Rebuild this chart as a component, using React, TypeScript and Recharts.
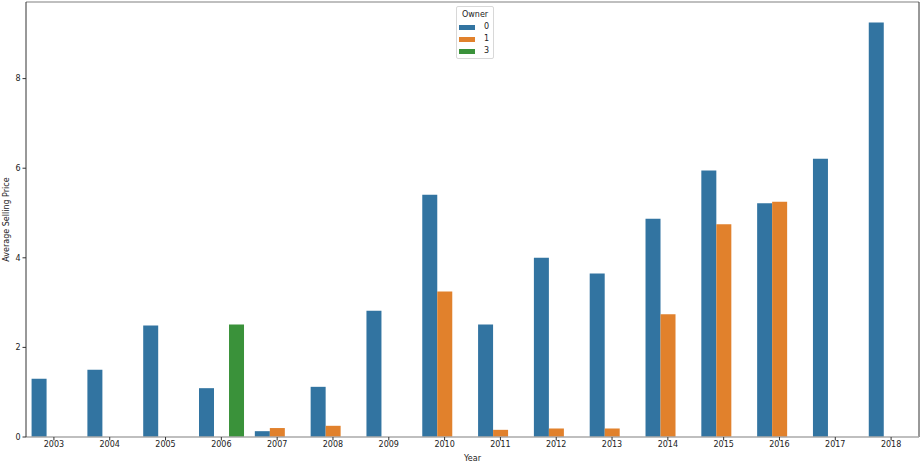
import { Bar, BarChart, ReferenceLine, XAxis, YAxis } from "recharts";

const years = [
  "2003", "2004", "2005", "2006", "2007", "2008", "2009", "2010",
  "2011", "2012", "2013", "2014", "2015", "2016", "2017", "2018",
];
const owner0 = [1.3, 1.5, 2.49, 1.09, 0.13, 1.12, 2.82, 5.41, 2.51, 4.0, 3.65, 4.87, 5.95, 5.22, 6.21, 9.25];
const owner1 = [null, null, null, null, 0.2, 0.25, null, 3.25, 0.16, 0.19, 0.19, 2.74, 4.75, 5.25, null, null];
const owner3 = [null, null, null, 2.51, null, null, null, null, null, null, null, null, null, null, null, null];
const yTicks = [0, 2, 4, 6, 8];
const yMax = 9.71;

const series = [
  { key: "o0", name: "0", color: "#3274a1" },
  { key: "o1", name: "1", color: "#e1812c" },
  { key: "o3", name: "3", color: "#3a923a" },
];

const data = years.map((year, i) => ({
  year,
  o0: owner0[i],
  o1: owner1[i],
  o3: owner3[i],
}));

const font = "'DejaVu Sans', sans-serif";
const tick = { fontSize: 8, fill: "#222", fontFamily: font };

function OwnerLegend() {
  return (
    <div
      style={{
        position: "absolute",
        left: 456,
        top: 6,
        border: "1px solid #d8d8d8",
        borderRadius: 2,
        background: "rgba(255,255,255,0.8)",
        padding: "2px 4px 1px 2px",
        fontFamily: font,
        fontSize: 8,
        color: "#222",
        lineHeight: "12px",
      }}
    >
      <div style={{ textAlign: "center", paddingLeft: 2 }}>Owner</div>
      {series.map((s) => (
        <div key={s.key} style={{ display: "flex", alignItems: "center" }}>
          <span style={{ display: "inline-block", width: 16, height: 5, background: s.color, marginRight: 9 }} />
          <span>{s.name}</span>
        </div>
      ))}
    </div>
  );
}

export default function App() {
  return (
    <div style={{ position: "fixed", left: 0, top: 0, width: 921, height: 468, background: "#fff" }}>
      <BarChart
        width={921}
        height={468}
        data={data}
        margin={{ top: 2, right: 2, left: 0, bottom: 0 }}
        barCategoryGap="10%"
        barGap={0}
      >
        <XAxis
          dataKey="year"
          height={31}
          tick={tick}
          tickSize={3.5}
          tickMargin={1}
          tickLine={{ stroke: "#333" }}
          axisLine={{ stroke: "#aaa", strokeWidth: 1.5 }}
          label={{ value: "Year", position: "insideBottom", offset: 7, style: { fontSize: 8, fill: "#222", fontFamily: font } }}
        />
        <YAxis
          width={26}
          domain={[0, yMax]}
          ticks={yTicks}
          tick={tick}
          tickSize={3.5}
          tickMargin={2}
          tickLine={{ stroke: "#333" }}
          axisLine={{ stroke: "#333" }}
          label={{
            value: "Average Selling Price",
            angle: -90,
            position: "insideLeft",
            offset: 6,
            style: { fontSize: 8, fill: "#222", fontFamily: font, textAnchor: "middle" },
          }}
        />
        {series.map((s) => (
          <Bar key={s.key} dataKey={s.key} name={s.name} fill={s.color} isAnimationActive={false} />
        ))}
        <ReferenceLine y={yMax} stroke="#aaa" strokeWidth={1.5} />
        <ReferenceLine x="2018" position="end" stroke="#333" />
      </BarChart>
      <OwnerLegend />
    </div>
  );
}
